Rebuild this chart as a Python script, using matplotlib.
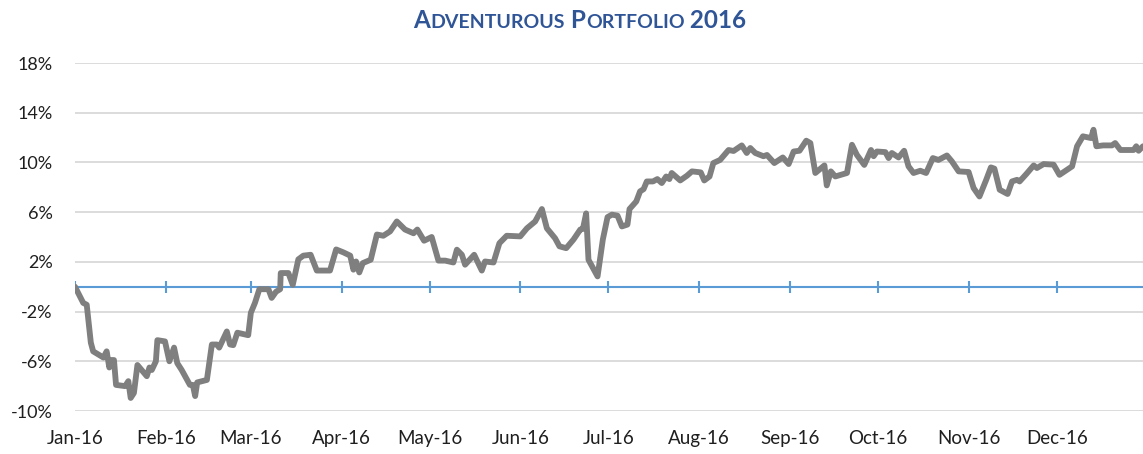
import numpy as np
import matplotlib
matplotlib.use("Agg")
import matplotlib.pyplot as plt
import matplotlib.dates as mdates

# days after 1 Jan 2016 and cumulative return in %
days = [0.0, 2.8, 4.0, 5.4, 6.2, 9.7, 10.8, 11.7, 12.2, 13.3, 14.0, 17.1, 18.2, 19.0,
        20.1, 21.3, 24.5, 25.4, 26.2, 27.6, 28.1, 30.7, 32.2, 33.8, 34.9, 36.4, 39.2,
        40.2, 41.0, 41.7, 45.0, 46.7, 48.4, 49.2, 51.8, 52.9, 54.0, 55.4, 59.1, 60.0,
        61.4, 62.9, 66.0, 67.1, 68.6, 70.0, 70.2, 72.8, 74.3, 76.2, 77.9, 80.4, 82.5,
        87.0, 89.1, 91.6, 93.9, 95.0, 95.9, 97.0, 98.2, 100.9, 103.0, 105.2, 107.5,
        109.8, 112.6, 115.5, 116.8, 119.1, 121.7, 124.0, 126.3, 129.1, 130.3, 132.0,
        133.1, 136.2, 138.8, 139.9, 142.8, 144.8, 147.3, 151.9, 154.2, 157.0, 159.3,
        161.0, 163.8, 165.3, 167.6, 170.1, 172.4, 173.3, 174.4, 175.2, 178.3, 180.1,
        181.7, 183.2, 185.1, 186.6, 188.5, 189.2, 191.5, 192.8, 194.0, 195.1, 197.2,
        198.7, 200.2, 201.7, 202.8, 203.6, 206.5, 208.8, 210.5, 213.5, 214.7, 216.5,
        217.8, 220.1, 223.0, 224.7, 227.5, 229.2, 230.4, 232.1, 234.9, 236.1, 238.6,
        241.5, 243.5, 245.2, 247.2, 249.5, 250.9, 252.6, 255.7, 256.5, 257.9, 259.4,
        263.4, 265.1, 266.8, 269.3, 271.6, 272.5, 273.6, 276.5, 277.6, 278.7, 281.0,
        282.9, 284.4, 286.1, 288.4, 290.4, 292.7, 294.6, 297.5, 299.2, 301.5, 304.9,
        306.6, 308.6, 310.9, 312.5, 313.7, 315.5, 318.2, 319.7, 321.4, 322.3, 324.6,
        327.1, 328.2, 330.5, 333.9, 335.9, 340.2, 341.9, 343.9, 346.7, 347.5, 348.5,
        350.8, 353.8, 354.9, 356.7, 361.2, 362.1, 362.9, 364.4]
returns = [0.0, -1.3, -1.45, -4.5, -5.2, -5.7, -5.2, -6.5, -5.9, -5.9, -7.9, -8.0, -7.6, -8.95,
           -8.55, -6.3, -7.2, -6.5, -6.7, -6.0, -4.3, -4.4, -6.0, -4.9, -6.15, -6.7, -7.9,
           -7.9, -8.8, -7.7, -7.5, -4.65, -4.65, -4.9, -3.6, -4.65, -4.7, -3.7, -3.9, -2.1,
           -1.3, -0.2, -0.2, -0.9, -0.4, -0.2, 1.1, 1.1, 0.15, 2.2, 2.5, 2.57, 1.3,
           1.3, 3.0, 2.76, 2.5, 1.37, 2.03, 1.15, 1.9, 2.17, 4.2, 4.1, 4.45,
           5.25, 4.6, 4.3, 4.6, 3.7, 4.0, 2.1, 2.1, 1.95, 2.98, 2.57,
           1.77, 2.57, 1.3, 2.03, 1.95, 3.5, 4.1, 4.05, 4.7, 5.25, 6.25,
           4.7, 3.9, 3.25, 3.1, 3.8, 4.6, 4.65, 5.9, 2.17, 0.83, 3.8,
           5.6, 5.8, 5.72, 4.85, 5.0, 6.25, 6.86, 7.67, 7.85, 8.47, 8.47,
           8.66, 8.34, 8.87, 8.66, 9.15, 8.55, 8.93, 9.28, 9.2, 8.55, 8.87,
           9.95, 10.2, 11.0, 10.92, 11.37, 10.76, 11.16, 10.76, 10.5, 10.6, 9.95,
           10.4, 9.87, 10.88, 10.94, 11.75, 11.56, 9.15, 9.76, 8.15, 9.28, 8.87,
           9.15, 11.42, 10.6, 9.8, 11.0, 10.5, 10.88, 10.83, 10.35, 10.76, 10.4,
           10.94, 9.68, 9.15, 9.33, 9.15, 10.35, 10.2, 10.56, 10.08, 9.28, 9.23,
           7.94, 7.26, 8.6, 9.6, 9.5, 7.8, 7.46, 8.47, 8.6, 8.47, 9.07,
           9.76, 9.55, 9.87, 9.82, 9.0, 9.68, 11.3, 12.1, 11.96, 12.63, 11.3,
           11.37, 11.37, 11.56, 11.0, 11.0, 11.3, 10.94, 11.3]
y_ticks = [-10, -6, -2, 2, 6, 10, 14, 18]
# (text, full size cap?) pieces of the small-caps title
title_parts = [("A", True), ("DVENTUROUS", False), (" P", True),
               ("ORTFOLIO", False), (" 2016", True)]

plt.rcParams["font.family"] = ["Lato", "DejaVu Sans"]

W, H = 1143, 454
fig = plt.figure(figsize=(W / 100, H / 100), dpi=100)
ax = fig.add_axes([75 / W, 1 - 411 / H, (W - 75) / W, (411 - 63) / H])

x = mdates.datestr2num("2016-01-01") + np.array(days)
ax.plot(x, returns, color="#7F7F7F", lw=4.2, solid_joinstyle="round",
        solid_capstyle="round", zorder=3)

ax.set_xlim(x[0], x[-1])
ax.set_ylim(y_ticks[0], y_ticks[-1])
ax.set_yticks(y_ticks)
ax.set_yticklabels([f"{t}%" for t in y_ticks])
ax.yaxis.grid(True, color="#D9D9D9", lw=1.3)
ax.set_axisbelow(True)

ax.xaxis.set_major_locator(mdates.MonthLocator())
ax.xaxis.set_major_formatter(mdates.DateFormatter("%b-%y"))

for s in ax.spines.values():
    s.set_visible(False)
ax.tick_params(axis="both", length=0, labelsize=13, labelcolor="#1F1F1F")
ax.tick_params(axis="x", pad=14, labelsize=13.5)
ax.tick_params(axis="y", pad=16)

# horizontal axis line at zero with its month tick marks
blue = "#5B9BD5"
ax.axhline(0, color=blue, lw=1.5, zorder=2)
ax.vlines(ax.get_xticks(), -0.5, 0.5, color=blue, lw=1.5, zorder=2)

# small caps title, pieces laid out left to right then centred
r = fig.canvas.get_renderer()
texts = []
for s, big in title_parts:
    texts.append(fig.text(0, 1 - 28 / H, s, fontsize=17.5 if big else 14,
                          fontweight="bold", color="#2F5597", va="baseline"))
widths = [t.get_window_extent(r).width / W for t in texts]
pos = 580 / W - sum(widths) / 2
for t, w in zip(texts, widths):
    t.set_x(pos)
    pos += w

fig.savefig("out.png", dpi=100)
